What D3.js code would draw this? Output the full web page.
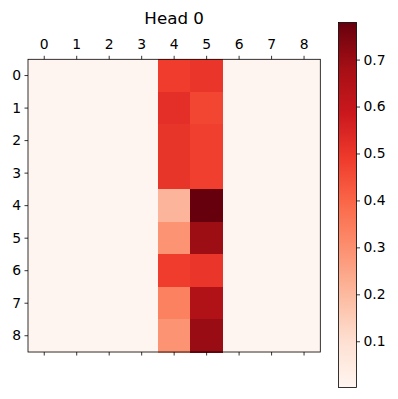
<!DOCTYPE html>
<html>
<head>
<meta charset="utf-8">
<script src="https://cdn.jsdelivr.net/npm/d3@7"></script>
<style>
  body { margin: 0; background: #fff; }
  text { font-family: "DejaVu Sans", sans-serif; fill: #000; }
</style>
</head>
<body>
<svg id="chart" width="398" height="399"></svg>
<script>
// attention weights, rows = query index, cols = key index
const labels = [0, 1, 2, 3, 4, 5, 6, 7, 8];
const col4 = [0.485, 0.52, 0.505, 0.505, 0.21, 0.29, 0.485, 0.335, 0.29];
const col5 = [0.50, 0.465, 0.48, 0.48, 0.779, 0.695, 0.50, 0.65, 0.70];
const restValue = 0.0015;
const cbarTicks = [0.1, 0.2, 0.3, 0.4, 0.5, 0.6, 0.7];
const title = "Head 0";

// matplotlib "Reds" stops
const redsStops = ["#fff5f0", "#fee0d2", "#fcbba1", "#fc9272", "#fb6a4a",
                   "#ef3b2c", "#cb181d", "#a50f15", "#67000d"];

const cells = [];
labels.forEach((r, i) => {
  labels.forEach((c, j) => {
    let v = restValue;
    if (c === 4) v = col4[i];
    if (c === 5) v = col5[i];
    cells.push({ row: r, col: c, value: v });
  });
});

const vmin = d3.min(cells, d => d.value);
const vmax = d3.max(cells, d => d.value);

const svg = d3.select("#chart");

const plot = { left: 28, right: 320.3, top: 59.3, bottom: 352 };
const cbar = { left: 338.5, right: 356.5, top: 22.5, bottom: 387.5 };

const x = d3.scaleBand().domain(labels).range([plot.left, plot.right]);
const y = d3.scaleBand().domain(labels).range([plot.top, plot.bottom]);

const norm = d3.scaleLinear().domain([vmin, vmax]).range([0, 1]).clamp(true);
const reds = d3.scaleLinear()
  .domain(redsStops.map((s, i) => i / (redsStops.length - 1)))
  .range(redsStops)
  .interpolate(d3.interpolateRgb);
const color = v => reds(norm(v));

// heatmap cells
svg.append("g")
  .selectAll("rect")
  .data(cells)
  .join("rect")
    .attr("x", d => x(d.col))
    .attr("y", d => y(d.row))
    .attr("width", x.bandwidth() + 0.5)
    .attr("height", y.bandwidth() + 0.5)
    .attr("fill", d => color(d.value))
    .attr("shape-rendering", "crispEdges");

// axes
const topAxis = d3.axisTop(x).tickSize(3.5).tickPadding(7);
const bottomAxis = d3.axisBottom(x).tickSize(3.5).tickFormat("");
const leftAxis = d3.axisLeft(y).tickSize(3.5).tickPadding(3.5);

function styleAxis(g) {
  g.select(".domain").remove();
  g.selectAll(".tick line").attr("stroke", "#000").attr("stroke-width", 0.8);
  g.selectAll(".tick text")
    .attr("font-size", "13.9px")
    .attr("font-family", "DejaVu Sans, sans-serif")
    .attr("fill", "#000");
}

svg.append("g").attr("transform", `translate(0,${plot.top})`).call(topAxis).call(styleAxis);
svg.append("g").attr("transform", `translate(0,${plot.bottom})`).call(bottomAxis).call(styleAxis);
svg.append("g").attr("transform", `translate(${plot.left},0)`).call(leftAxis).call(styleAxis);

svg.append("rect")
  .attr("x", plot.left).attr("y", plot.top)
  .attr("width", plot.right - plot.left).attr("height", plot.bottom - plot.top)
  .attr("fill", "none").attr("stroke", "#000").attr("stroke-width", 0.8);

// title
svg.append("text")
  .attr("x", (plot.left + plot.right) / 2)
  .attr("y", 24)
  .attr("text-anchor", "middle")
  .attr("font-size", "16.7px")
  .text(title);

// colorbar
const defs = svg.append("defs");
const grad = defs.append("linearGradient")
  .attr("id", "cbar-grad")
  .attr("x1", 0).attr("y1", 1).attr("x2", 0).attr("y2", 0);
grad.selectAll("stop")
  .data(d3.range(0, 1.0001, 1 / 64))
  .join("stop")
    .attr("offset", d => d)
    .attr("stop-color", d => reds(d));

svg.append("rect")
  .attr("x", cbar.left).attr("y", cbar.top)
  .attr("width", cbar.right - cbar.left).attr("height", cbar.bottom - cbar.top)
  .attr("fill", "url(#cbar-grad)")
  .attr("stroke", "#000").attr("stroke-width", 0.8);

const cy = d3.scaleLinear().domain([vmin, vmax]).range([cbar.bottom, cbar.top]);
const cbarAxis = d3.axisRight(cy).tickValues(cbarTicks).tickSize(3.5).tickPadding(3.5)
  .tickFormat(d3.format(".1f"));
svg.append("g").attr("transform", `translate(${cbar.right},0)`).call(cbarAxis).call(styleAxis);
</script>
</body>
</html>
